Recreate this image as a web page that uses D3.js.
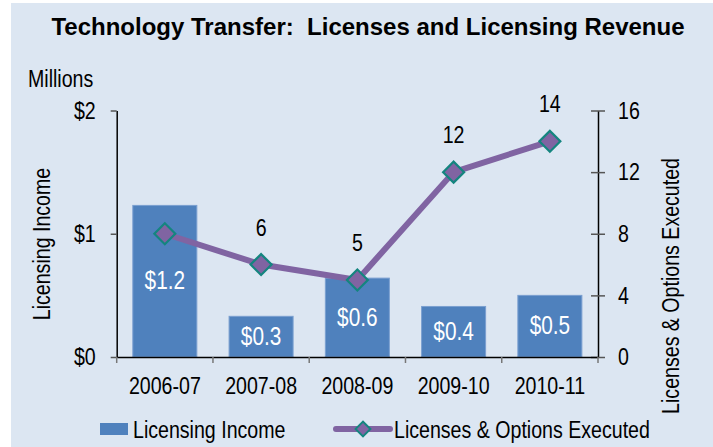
<!DOCTYPE html>
<html>
<head>
<meta charset="utf-8">
<script src="https://cdn.jsdelivr.net/npm/d3@7/dist/d3.min.js"></script>
<style>
  html, body { margin: 0; padding: 0; background: #ffffff; }
  svg { display: block; }
  .nf { font-family: "Liberation Sans", Arial, sans-serif; }
  .nar { font-family: "Liberation Sans", Arial, sans-serif; transform-box: fill-box; }
  .nm { transform: scaleX(0.8); transform-origin: center; }
  .ns { transform: scaleX(0.8); transform-origin: left; }
  .ne { transform: scaleX(0.8); transform-origin: right; }
</style>
</head>
<body>
<svg id="chart" width="713" height="447"></svg>
<script>
const categories = ["2006-07", "2007-08", "2008-09", "2009-10", "2010-11"];
const incomeValues = [1.23, 0.33, 0.64, 0.41, 0.5];
const incomeLabels = ["$1.2", "$0.3", "$0.6", "$0.4", "$0.5"];
const licenseValues = [8, 6, 5, 12, 14];
const licenseLabels = ["", "6", "5", "12", "14"];
const leftTicks = [0, 1, 2];
const leftTickLabels = ["$0", "$1", "$2"];
const rightTicks = [0, 4, 8, 12, 16];

const svg = d3.select("#chart");
const W = 713, H = 447;
const FS = 24.5;
const SX = 0.8;

svg.append("rect").attr("x", 11).attr("y", 3).attr("width", W - 11).attr("height", H - 3).attr("fill", "#dce6f2");

svg.append("text").attr("x", 368).attr("y", 35).attr("text-anchor", "middle")
  .attr("font-family", "'Liberation Sans', Arial, sans-serif").attr("font-weight", "bold")
  .attr("font-size", 24).attr("fill", "#000").style("white-space", "pre")
  .text("Technology Transfer:  Licenses and Licensing Revenue");

const plot = { left: 116.7, right: 598, top: 110.5, bottom: 357 };

const x = d3.scaleBand().domain(categories).range([plot.left, plot.right]).paddingInner(0.335).paddingOuter(0.1675);
const yL = d3.scaleLinear().domain([0, 2]).range([plot.bottom, plot.top]);
const yR = d3.scaleLinear().domain([0, 16]).range([plot.bottom, plot.top]);

// bars
svg.append("g").selectAll("rect").data(categories).join("rect")
  .attr("x", d => x(d)).attr("width", x.bandwidth())
  .attr("y", (d, i) => yL(incomeValues[i]))
  .attr("height", (d, i) => yL(0) - yL(incomeValues[i]))
  .attr("fill", "#4f81bd").attr("stroke", "#7a9fd0").attr("stroke-width", 1);

svg.append("g").selectAll("text").data(categories).join("text")
  .attr("class", "nar nm")
  .attr("x", d => x(d) + x.bandwidth() / 2)
  .attr("y", (d, i) => (yL(incomeValues[i]) + yL(0)) / 2 + 8)
  .attr("text-anchor", "middle").attr("font-size", 26).attr("fill", "#fff")
  .text((d, i) => incomeLabels[i]);

// left axis
const gL = svg.append("g").attr("transform", `translate(${plot.left},0)`)
  .call(d3.axisLeft(yL).tickValues(leftTicks).tickFormat((d, i) => leftTickLabels[i]).tickSizeInner(6).tickSizeOuter(0).tickPadding(15));
gL.select(".domain").attr("stroke", "#000").attr("stroke-width", 1.5);
gL.selectAll(".tick line").attr("stroke", "#555").attr("stroke-width", 1.5);
gL.selectAll(".tick text").attr("class", "nar ne").attr("font-size", FS).attr("fill", "#000");

// right axis
const gR = svg.append("g").attr("transform", `translate(${plot.right},0)`)
  .call(d3.axisRight(yR).tickValues(rightTicks).tickSizeInner(7).tickSizeOuter(0).tickPadding(13));
gR.select(".domain").attr("stroke", "#000").attr("stroke-width", 1.5);
gR.selectAll(".tick line").attr("x1", -7).attr("stroke", "#555").attr("stroke-width", 1.5);
gR.selectAll(".tick text").attr("class", "nar ns").attr("font-size", FS).attr("fill", "#000");

// bottom axis
const gB = svg.append("g").attr("transform", `translate(0,${plot.bottom})`)
  .call(d3.axisBottom(x).tickSize(0).tickPadding(20));
gB.select(".domain").attr("stroke", "#000").attr("stroke-width", 1.5);
gB.selectAll(".tick text").attr("class", "nar nm").attr("font-size", FS).attr("fill", "#000");
const bounds = categories.map(c => x(c) - x.step() * x.paddingInner() / 2).concat([plot.right]);
gB.selectAll("line.sep").data(bounds).join("line").attr("class", "sep")
  .attr("x1", d => d).attr("x2", d => d).attr("y1", 0).attr("y2", 6)
  .attr("stroke", "#777").attr("stroke-width", 1.5);

// line series
const cx = d => x(d) + x.bandwidth() / 2;
const line = d3.line().x((d, i) => cx(categories[i])).y(d => yR(d));
svg.append("path").datum(licenseValues).attr("d", line)
  .attr("fill", "none").attr("stroke", "#8064a2").attr("stroke-width", 6).attr("stroke-linejoin", "round");

const diamond = d3.symbol().type(d3.symbolSquare).size(220);
svg.append("g").selectAll("path").data(licenseValues).join("path")
  .attr("d", diamond())
  .attr("transform", (d, i) => `translate(${cx(categories[i])},${yR(d)}) rotate(45)`)
  .attr("fill", "#8064a2").attr("stroke", "#14857f").attr("stroke-width", 2.2);

svg.append("g").selectAll("text").data(licenseValues).join("text")
  .attr("class", "nar nm")
  .attr("x", (d, i) => cx(categories[i]))
  .attr("y", d => yR(d) - 29)
  .attr("text-anchor", "middle").attr("font-size", FS).attr("fill", "#000")
  .text((d, i) => licenseLabels[i]);

// axis titles
svg.append("text").attr("class", "nf").attr("transform", `translate(50,244) rotate(-90) scale(${SX},1)`)
  .attr("text-anchor", "middle").attr("font-size", FS).attr("fill", "#000").text("Licensing Income");

svg.append("text").attr("class", "nar ns").attr("x", 28).attr("y", 87)
  .attr("font-size", FS).attr("fill", "#000").text("Millions");

svg.append("text").attr("class", "nf")
  .attr("transform", `translate(679,158) rotate(-90) scale(${SX},1)`)
  .attr("text-anchor", "end").attr("font-size", FS).attr("fill", "#000").text("Licenses & Options Executed");

// legend
const LY = 429;
const lg = svg.append("g");
lg.append("rect").attr("x", 100).attr("y", LY - 6).attr("width", 28).attr("height", 12).attr("fill", "#4f81bd");
lg.append("text").attr("class", "nar ns").attr("x", 133).attr("y", LY + 9).attr("font-size", FS).attr("fill", "#000").text("Licensing Income");
lg.append("line").attr("x1", 336).attr("x2", 390).attr("y1", LY).attr("y2", LY)
  .attr("stroke", "#8064a2").attr("stroke-width", 6).attr("stroke-linecap", "round");
lg.append("path").attr("d", d3.symbol().type(d3.symbolSquare).size(110)())
  .attr("transform", `translate(363,${LY}) rotate(45)`)
  .attr("fill", "#8064a2").attr("stroke", "#14857f").attr("stroke-width", 2);
lg.append("text").attr("class", "nar ns").attr("x", 394).attr("y", LY + 9).attr("font-size", FS).attr("fill", "#000").text("Licenses & Options Executed");
</script>
</body>
</html>
